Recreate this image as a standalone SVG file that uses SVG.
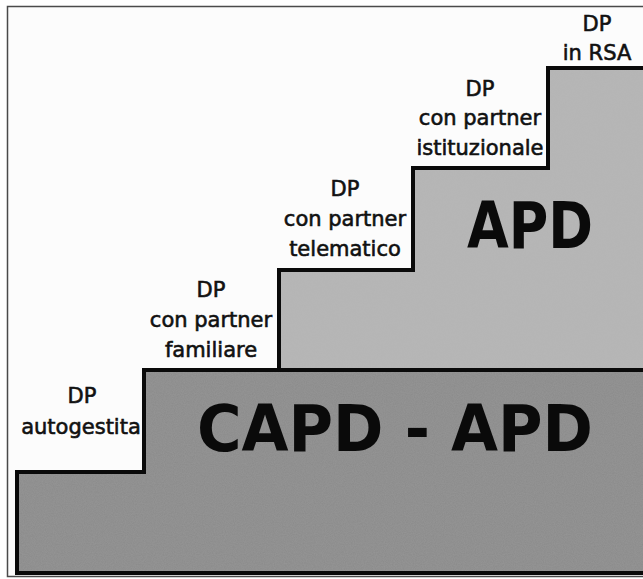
<svg xmlns="http://www.w3.org/2000/svg" width="643" height="579" viewBox="0 0 643 579">
  <style>
    .lbl { font-family: "DejaVu Sans", "Liberation Sans", sans-serif; font-size: 21px; fill: #111; stroke: #111; stroke-width: 0.6; text-anchor: middle; }
    .big { font-family: "DejaVu Sans", "Liberation Sans", sans-serif; font-weight: bold; font-size: 64px; fill: #0a0a0a; }
    .edge { fill: none; stroke: #0a0a0a; stroke-width: 4; stroke-linejoin: miter; }
  </style>
  <defs>
    <filter id="grain" x="0" y="0" width="100%" height="100%">
      <feTurbulence type="fractalNoise" baseFrequency="0.9" numOctaves="2" seed="3" result="n"/>
      <feColorMatrix in="n" type="matrix" values="0 0 0 0 0.5  0 0 0 0 0.5  0 0 0 0 0.5  0 0 0 0.18 0" result="g"/>
      <feComposite in="g" in2="SourceGraphic" operator="in" result="gc"/>
      <feMerge><feMergeNode in="SourceGraphic"/><feMergeNode in="gc"/></feMerge>
    </filter>
  </defs>
  <rect x="0" y="0" width="643" height="579" fill="#ffffff"/>
  <rect x="7.5" y="6.5" width="645" height="570" fill="#fcfcfc" stroke="#4a4a4a" stroke-width="1.5"/>

  <g id="level-capd-apd">
    <path d="M16,472 H144 V370 H645 V573 H16 Z" fill="#8b8b8b" filter="url(#grain)"/>
    <text class="big" x="395" y="451" text-anchor="middle" textLength="396" lengthAdjust="spacingAndGlyphs">CAPD - APD</text>
  </g>
  <g id="level-apd">
    <path d="M279,370 V270 H413 V168 H548 V68 H645 V370 Z" fill="#b5b5b5" filter="url(#grain)"/>
    <text class="big" x="530" y="248" text-anchor="middle" textLength="126" lengthAdjust="spacingAndGlyphs">APD</text>
  </g>

  <g id="outline">
    <path class="edge" d="M17,573 V472 H144 V370 H279 V270 H413 V168 H548 V68 H645"/>
    <path class="edge" d="M144,370 H645"/>
    <path class="edge" d="M15,573 H645"/>
  </g>

  <g id="step-autogestita">
    <text class="lbl" x="82" y="403">DP</text>
    <text class="lbl" x="81" y="434">autogestita</text>
  </g>
  <g id="step-familiare">
    <text class="lbl" x="211" y="297">DP</text>
    <text class="lbl" x="211" y="327">con partner</text>
    <text class="lbl" x="211" y="357">familiare</text>
  </g>
  <g id="step-telematico">
    <text class="lbl" x="345" y="196">DP</text>
    <text class="lbl" x="345" y="226">con partner</text>
    <text class="lbl" x="345" y="256">telematico</text>
  </g>
  <g id="step-istituzionale">
    <text class="lbl" x="480" y="96">DP</text>
    <text class="lbl" x="480" y="125">con partner</text>
    <text class="lbl" x="480" y="155">istituzionale</text>
  </g>
  <g id="step-rsa">
    <text class="lbl" x="597" y="31">DP</text>
    <text class="lbl" x="597" y="60">in RSA</text>
  </g>
</svg>
